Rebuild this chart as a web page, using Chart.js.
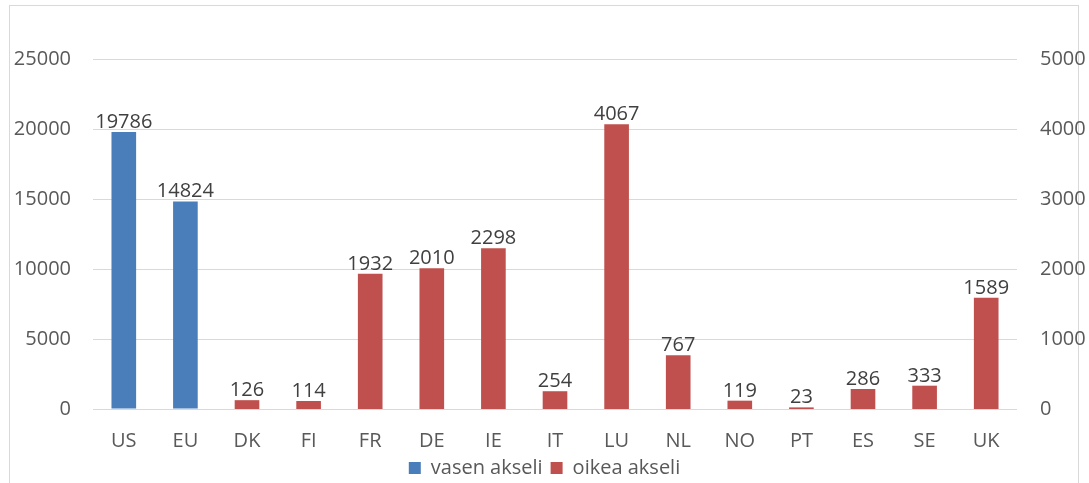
<!DOCTYPE html>
<html>
<head>
<meta charset="utf-8">
<script src="https://cdn.jsdelivr.net/npm/chart.js@4"></script>
<style>
  html, body { margin: 0; padding: 0; background: #fff; }
  #wrap { position: relative; width: 1089px; height: 483px; overflow: hidden; }
  #frame { position: absolute; left: 9px; top: 5px; width: 1068px; height: 500px; border: 1.5px solid #d9d9d9; }
  canvas { position: absolute; left: 0; top: 0; }
</style>
</head>
<body>
<div id="wrap">
  <div id="frame"></div>
  <canvas id="chart" width="1089" height="483"></canvas>
</div>
<script>
'use strict';
const countries = ['US', 'EU', 'DK', 'FI', 'FR', 'DE', 'IE', 'IT', 'LU', 'NL', 'NO', 'PT', 'ES', 'SE', 'UK'];
const leftValues = [19786, 14824, null, null, null, null, null, null, null, null, null, null, null, null, null];
const rightValues = [null, null, 126, 114, 1932, 2010, 2298, 254, 4067, 767, 119, 23, 286, 333, 1589];
const seriesNames = ['vasen akseli', 'oikea akseli'];
const mycolors = ['#4a7ebb', '#c0504d'];

Chart.defaults.font.family = "'Open Sans', sans-serif";
Chart.defaults.font.size = 20;
Chart.defaults.color = '#595959';

// numbers above the bars
const barLabels = {
    id: 'barLabels',
    afterDatasetsDraw(chart) {
        const ctx = chart.ctx;
        ctx.save();
        ctx.font = "20px 'Open Sans', sans-serif";
        ctx.fillStyle = '#404040';
        ctx.textAlign = 'center';
        ctx.textBaseline = 'alphabetic';
        chart.data.datasets.forEach((ds, i) => {
            chart.getDatasetMeta(i).data.forEach((bar, j) => {
                if (ds.data[j] === null) return;
                ctx.fillText(String(ds.data[j]), bar.x, bar.y - 4);
            });
        });
        ctx.restore();
    }
};

let ctx = document.getElementById('chart').getContext('2d');
let chart = new Chart(ctx, {
    type: 'bar',
    data: {
        labels: countries,
        datasets: [{
            label: seriesNames[0],
            data: leftValues,
            backgroundColor: mycolors[0],
            yAxisID: 'y',
            grouped: false,
            barPercentage: 0.4,
            categoryPercentage: 1,
        }, {
            label: seriesNames[1],
            data: rightValues,
            backgroundColor: mycolors[1],
            yAxisID: 'y1',
            grouped: false,
            barPercentage: 0.4,
            categoryPercentage: 1,
        }]
    },
    options: {
        responsive: false,
        animation: false,
        layout: {
            padding: { top: 59, bottom: -5, left: 0, right: 0 }
        },
        scales: {
            x: {
                grid: { display: false },
                border: { display: false },
                ticks: { padding: 12, color: '#595959' },
                afterFit: scale => { scale.height = 41; }
            },
            y: {
                position: 'left',
                min: 0,
                max: 25000,
                ticks: { stepSize: 5000, padding: 22, color: '#595959', callback: v => String(v) },
                grid: { color: '#d9d9d9', drawTicks: false },
                border: { display: false },
                afterFit: scale => { scale.width = 93; }
            },
            y1: {
                position: 'right',
                min: 0,
                max: 5000,
                ticks: { stepSize: 1000, padding: 23, color: '#595959', callback: v => String(v) },
                grid: { display: false, drawTicks: false },
                border: { display: false },
                afterFit: scale => { scale.width = 72; }
            }
        },
        plugins: {
            legend: {
                position: 'bottom',
                labels: {
                    boxWidth: 12,
                    boxHeight: 12,
                    padding: 8,
                    color: '#595959',
                    font: { size: 20 }
                }
            },
            tooltip: { enabled: false }
        }
    },
    plugins: [barLabels]
});
</script>
</body>
</html>
